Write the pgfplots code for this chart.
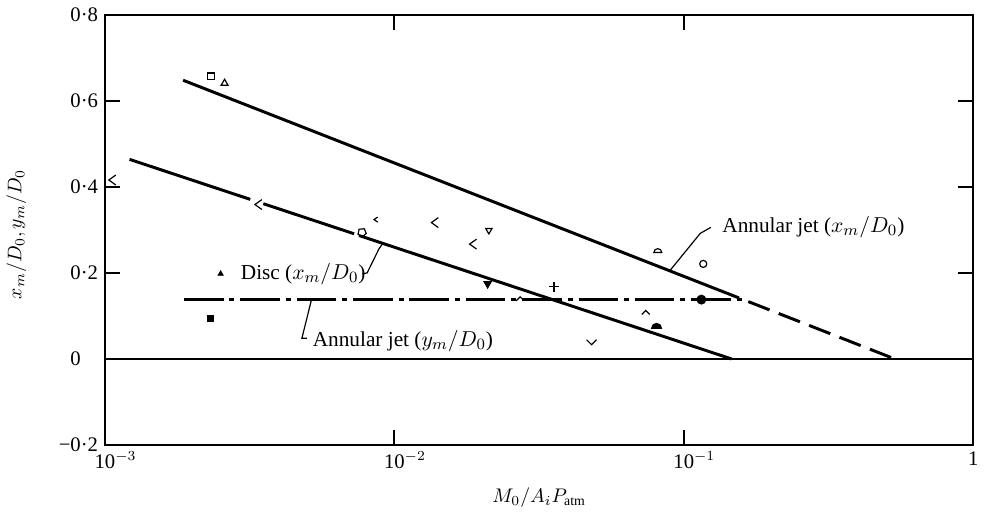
\documentclass[border=0pt]{standalone}
\usepackage{fontspec}
\setmainfont{Liberation Serif}
\usepackage{pgfplots}
\pgfplotsset{compat=1.18}
\usetikzlibrary{plotmarks}

\pgfdeclareplotmark{lt}{%
  \pgfpathmoveto{\pgfqpoint{0.7\pgfplotmarksize}{\pgfplotmarksize}}%
  \pgfpathlineto{\pgfqpoint{-0.7\pgfplotmarksize}{0pt}}%
  \pgfpathlineto{\pgfqpoint{0.7\pgfplotmarksize}{-\pgfplotmarksize}}%
  \pgfusepathqstroke}
\pgfdeclareplotmark{caret}{%
  \pgfpathmoveto{\pgfqpoint{-\pgfplotmarksize}{-0.5\pgfplotmarksize}}%
  \pgfpathlineto{\pgfqpoint{0pt}{0.5\pgfplotmarksize}}%
  \pgfpathlineto{\pgfqpoint{\pgfplotmarksize}{-0.5\pgfplotmarksize}}%
  \pgfusepathqstroke}
\pgfdeclareplotmark{vee}{%
  \pgfpathmoveto{\pgfqpoint{-\pgfplotmarksize}{0.5\pgfplotmarksize}}%
  \pgfpathlineto{\pgfqpoint{0pt}{-0.5\pgfplotmarksize}}%
  \pgfpathlineto{\pgfqpoint{\pgfplotmarksize}{0.5\pgfplotmarksize}}%
  \pgfusepathqstroke}
\pgfdeclareplotmark{dome}{%
  \pgfpathmoveto{\pgfqpoint{\pgfplotmarksize}{-0.4\pgfplotmarksize}}%
  \pgfpatharc{0}{180}{\pgfplotmarksize}%
  \pgfpathclose
  \pgfusepathqstroke}
\pgfdeclareplotmark{dome*}{%
  \pgfpathmoveto{\pgfqpoint{\pgfplotmarksize}{-0.4\pgfplotmarksize}}%
  \pgfpatharc{0}{180}{\pgfplotmarksize}%
  \pgfpathclose
  \pgfusepathqfillstroke}

\begin{document}
\begin{tikzpicture}
\begin{axis}[
  xmode=log, scale only axis, width=439bp, height=217.5bp,
  xmin=1e-3, xmax=1, ymin=-0.2, ymax=0.8,
  xtick={0.001,0.01,0.1,1},
  xticklabels={10\rlap{$^{-3}$},10\rlap{$^{-2}$},10\rlap{$^{-1}$},1},
  ytick={-0.2,0,0.2,0.4,0.6,0.8},
  yticklabels={−0·2,0\phantom{·0},0·2,0·4,0·6,0·8},
  xminorticks=false, yminorticks=false,
  tick align=inside, major tick length=7.5bp,
  every tick/.style={black, line width=1bp},
  axis line style={line width=1.2bp},
  ticklabel style={font=\fontsize{10.5}{12}\selectfont},
  label style={font=\fontsize{10.5}{12}\selectfont},
  xlabel={$M_0/A_iP_{\mathrm{atm}}$},
  ylabel={$x_m/D_0, y_m/D_0$},
  every axis x label/.style={at={(axis description cs:0.5,-0.122)}, anchor=center},
  every axis y label/.style={at={(axis description cs:-0.102,0.49)}, anchor=center, rotate=90},
  clip=false,
]
% zero line
\addplot[black, line width=0.7bp] coordinates {(1e-3,0) (1,0)};
% annular jet x_m (solid + dashed)
\addplot[black, line width=1.5bp] coordinates {(1.862e-3,0.648) (0.1312,0.161)};
\addplot[black, line width=1.5bp, dash pattern=on 11.5bp off 5bp] coordinates {(0.1312,0.161) (0.536,0)};
% disc x_m (solid, with gaps at markers)
\addplot[black, line width=1.5bp] coordinates {(1.216e-3,0.464) (3.177e-3,0.371)};
\addplot[black, line width=1.5bp] coordinates {(3.524e-3,0.361) (7.26e-3,0.291)};
\addplot[black, line width=1.5bp] coordinates {(7.55e-3,0.287) (0.1462,0)};
% annular jet y_m (dash-dot)
\addplot[black, line width=1.5bp, dash pattern=on 20bp off 3bp on 2.5bp off 3bp] coordinates {(1.875e-3,0.138) (0.165,0.138)};

% data points
\addplot[only marks, mark=square, mark size=1.7bp, mark options={line width=0.6bp}] coordinates {(2.32e-3,0.657)};
\addplot[only marks, mark=triangle, mark size=2bp, mark options={line width=0.6bp}] coordinates {(2.59e-3,0.641)};
\addplot[only marks, mark=lt, mark size=2.5bp, mark options={line width=0.6bp}] coordinates {(1.06e-3,0.416) (3.39e-3,0.359) (1.38e-2,0.317) (1.87e-2,0.267)};
\addplot[only marks, mark=lt, mark size=1.3bp, mark options={line width=0.6bp}] coordinates {(8.63e-3,0.324)};
\addplot[only marks, mark=pentagon, mark size=2.2bp, mark options={line width=0.6bp, rotate=-30}] coordinates {(7.73e-3,0.294)};
\addplot[only marks, mark=triangle, mark size=1.8bp, mark options={line width=0.6bp, rotate=180}] coordinates {(2.12e-2,0.299)};
\addplot[only marks, mark=triangle*, mark size=2.2bp, mark options={line width=0.5bp, rotate=180, fill=black}] coordinates {(2.10e-2,0.175)};
\addplot[only marks, mark=triangle*, mark size=1.5bp, mark options={fill=black}] coordinates {(2.51e-3,0.198)};
\addplot[only marks, mark=square*, mark size=1.5bp, mark options={fill=black}] coordinates {(2.32e-3,0.095)};
\addplot[only marks, mark=caret, mark size=2bp, mark options={line width=0.6bp}] coordinates {(2.72e-2,0.140) (7.39e-2,0.108)};
\addplot[only marks, mark=+, mark size=2.5bp, mark options={line width=0.6bp}] coordinates {(3.56e-2,0.168)};
\addplot[only marks, mark=vee, mark size=2.5bp, mark options={line width=0.6bp}] coordinates {(4.80e-2,0.039)};
\addplot[only marks, mark=dome*, mark size=2.5bp, mark options={fill=black, line width=0.5bp}] coordinates {(8.05e-2,0.076)};
\addplot[only marks, mark=dome, mark size=2bp, mark options={line width=0.6bp}] coordinates {(8.13e-2,0.251)};
\addplot[only marks, mark=o, mark size=1.8bp, mark options={line width=0.6bp}] coordinates {(0.1167,0.221)};
\addplot[only marks, mark=*, mark size=2.3bp, mark options={fill=black}] coordinates {(0.115,0.138)};

% annotations
\node[anchor=west, inner sep=0pt, font=\fontsize{10.8}{13}\selectfont] at (axis cs:0.1355,0.306) {Annular jet ($x_m/D_0$)};
\draw[line width=0.6bp] (axis cs:0.0899,0.207) -- (axis cs:0.114,0.292) -- (axis cs:0.124,0.306);
\node[anchor=west, inner sep=0pt, font=\fontsize{10.8}{13}\selectfont] at (axis cs:2.94e-3,0.198) {Disc ($x_m/D_0$)};
\draw[line width=0.6bp] (axis cs:7.75e-3,0.198) -- (axis cs:8.05e-3,0.200) -- (axis cs:8.83e-3,0.255) -- (axis cs:9.12e-3,0.269);
\node[anchor=west, inner sep=0pt, font=\fontsize{10.8}{13}\selectfont] at (axis cs:5.21e-3,0.041) {Annular jet ($y_m/D_0$)};
\draw[line width=0.6bp] (axis cs:4.98e-3,0.048) -- (axis cs:4.79e-3,0.048) -- (axis cs:5.18e-3,0.140);

\coordinate (bl) at (rel axis cs:0,0);
\coordinate (tr) at (rel axis cs:1,1);
\end{axis}
\path ([shift={(-51.5bp,-32bp)}]bl) rectangle ([shift={(2bp,7.5bp)}]tr);
\end{tikzpicture}
\end{document}
